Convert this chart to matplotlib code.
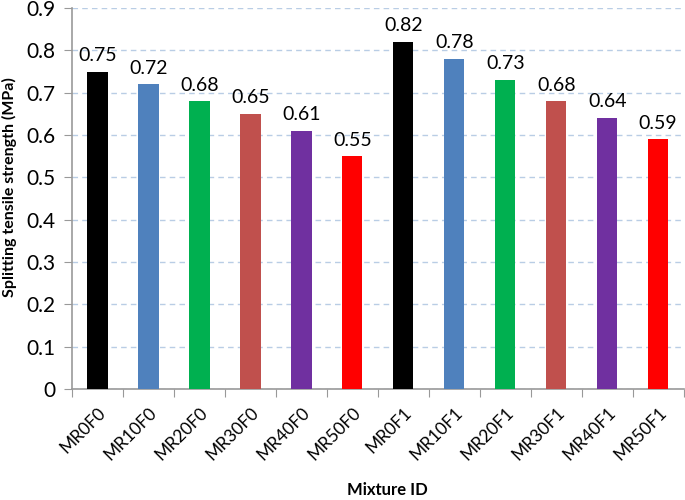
import matplotlib
matplotlib.use("Agg")
import matplotlib.pyplot as plt
import numpy as np

categories = ["MR0F0", "MR10F0", "MR20F0", "MR30F0", "MR40F0", "MR50F0",
              "MR0F1", "MR10F1", "MR20F1", "MR30F1", "MR40F1", "MR50F1"]
values = [0.75, 0.72, 0.68, 0.65, 0.61, 0.55, 0.82, 0.78, 0.73, 0.68, 0.64, 0.59]
colors = ["#000000", "#4F81BD", "#00B050", "#C0504D", "#7030A0", "#FF0000"] * 2
yticks = [0, 0.1, 0.2, 0.3, 0.4, 0.5, 0.6, 0.7, 0.8, 0.9]
ytick_labels = ["0", "0.1", "0.2", "0.3", "0.4", "0.5", "0.6", "0.7", "0.8", "0.9"]

plt.rcParams['font.family'] = ['Lato', 'DejaVu Sans']

fig = plt.figure(figsize=(6.85, 5), dpi=100)
ax = fig.add_axes([0.105, 0.222, 0.893, 0.762])

x = np.arange(len(categories))
ax.bar(x, values, width=0.4, color=colors, zorder=3)
for xi, v in zip(x, values):
    ax.text(xi, v + 0.018, f"{v:.2f}", ha="center", va="bottom", fontsize=14, zorder=4)

ax.set_xlim(-0.5, len(categories) - 0.5)
ax.set_ylim(0, 0.9)
ax.set_yticks(yticks)
ax.set_yticklabels(ytick_labels, fontsize=15)
ax.set_xticks(np.arange(-0.5, len(categories), 1.0))
ax.set_xticklabels([])
ax.set_xticks(x, minor=True)
ax.set_xticklabels(categories, minor=True, rotation=45, ha="right", va="top",
                   rotation_mode="anchor", fontsize=12.5)
ax.tick_params(axis="x", which="minor", length=0, pad=11)
ax.tick_params(axis="x", which="major", length=6, color="#999999", direction="out")
ax.tick_params(axis="y", length=6, color="#999999", direction="out", pad=6)

ax.grid(axis="y", color="#B9CDE5", linestyle=(0, (4, 3)), linewidth=1, zorder=0)
for s in ["top", "right"]:
    ax.spines[s].set_visible(False)
for s in ["left", "bottom"]:
    ax.spines[s].set_color("#999999")
    ax.spines[s].set_linewidth(1.2)

fig.text(0.014, 0.625, "Splitting tensile strength (MPa)", fontsize=11.5, fontweight="bold",
         rotation=90, ha="center", va="center")
fig.text(0.565, 0.02, "Mixture ID", fontsize=12, fontweight="bold", ha="center", va="center")

fig.savefig("out.png", dpi=100)
